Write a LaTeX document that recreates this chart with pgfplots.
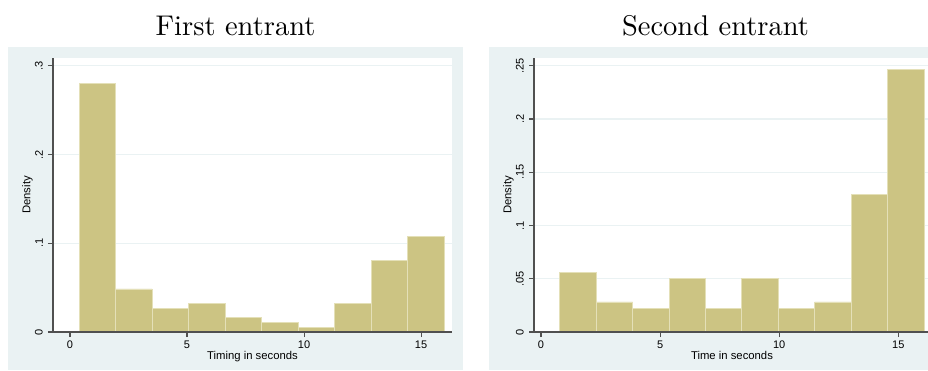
\documentclass[border=0pt]{standalone}
\usepackage{fontspec}
\setsansfont{Liberation Sans}
\newfontfamily\titlefont{lmroman10-regular}[Extension=.otf]
\usepackage{pgfplots}
\pgfplotsset{compat=1.18}
\definecolor{bgcol}{RGB}{234,242,243}
\definecolor{khaki}{RGB}{204,196,131}
\definecolor{barline}{RGB}{228,224,184}
\definecolor{axcol}{RGB}{80,80,80}
\pgfplotsset{
  stataaxis/.style={
    scale only axis, anchor=south west,
    ymin=0, height=274pt,
    axis lines=left,
    axis line style={-, draw=axcol, line width=1.1pt},
    tick align=outside, major tick length=5pt,
    tick style={draw=axcol, line width=1.1pt},
    ymajorgrids, grid style={draw=bgcol, line width=1.2pt},
    axis background/.style={fill=white},
    xtick={0,5,10,15}, xticklabels={0,5,10,15},
    ticklabel style={font=\sffamily\fontsize{11}{13}\selectfont, inner sep=0pt},
    xticklabel style={anchor=north, yshift=-4pt},
    yticklabel style={xshift=-5pt, rotate=90, anchor=south},
    every axis x label/.style={at={(rel axis cs:0.5,0)}, anchor=north, yshift=-19.5pt, inner sep=0pt, font=\sffamily\fontsize{11.3}{13}\selectfont},
    every axis y label/.style={at={(rel axis cs:0,0.5)}, xshift=-20pt, rotate=90, anchor=south, inner sep=0pt, font=\sffamily\fontsize{11.3}{13}\selectfont},
    ylabel={Density},
  }
}
\begin{document}
\begin{tikzpicture}[x=1pt,y=1pt]
\useasboundingbox (0,0) rectangle (928,370);
\clip (0,0) rectangle (928,370);
\fill[bgcol] (8,0) rectangle (463,323);
\fill[bgcol] (489,0) rectangle (941,323);
\node[anchor=base, font=\titlefont\fontsize{28.5}{34}\selectfont] at (235.5,334.3) {First entrant};
\node[anchor=base, font=\titlefont\fontsize{28.5}{34}\selectfont] at (715.5,334.3) {Second entrant};

\begin{axis}[stataaxis, at={(53pt,38pt)}, width=399pt,
  xmin=-0.726, xmax=16.32, ymax=0.3087,
  ytick={0,0.1,0.2,0.3}, yticklabels={0,.1,.2,.3},
  xlabel={Timing in seconds}]
\addplot[ybar interval, fill=khaki, draw=barline, line width=0.8pt] coordinates {
(0.390,0.2803) (1.949,0.0485) (3.508,0.0270) (5.067,0.0323) (6.626,0.0162)
(8.185,0.0108) (9.744,0.0054) (11.303,0.0323) (12.862,0.0809) (14.421,0.1078)
(15.980,0)};
\draw[axcol, line width=1.1pt] (rel axis cs:0,0) -- (rel axis cs:0.995,0);
\end{axis}

\begin{axis}[stataaxis, at={(534pt,38pt)}, width=396pt,
  xmin=-0.294, xmax=16.33, ymax=0.2573,
  ytick={0,0.05,0.1,0.15,0.2,0.25}, yticklabels={0,.05,.1,.15,.2,.25},
  xlabel={Time in seconds}]
\addplot[ybar interval, fill=khaki, draw=barline, line width=0.8pt] coordinates {
(0.784,0.0563) (2.314,0.0282) (3.843,0.0225) (5.373,0.0507) (6.902,0.0225)
(8.432,0.0507) (9.962,0.0225) (11.491,0.0282) (13.021,0.1289) (14.550,0.2466)
(16.080,0)};
\draw[axcol, line width=1.1pt] (rel axis cs:0,0) -- (rel axis cs:1,0);
\end{axis}
\end{tikzpicture}
\end{document}
